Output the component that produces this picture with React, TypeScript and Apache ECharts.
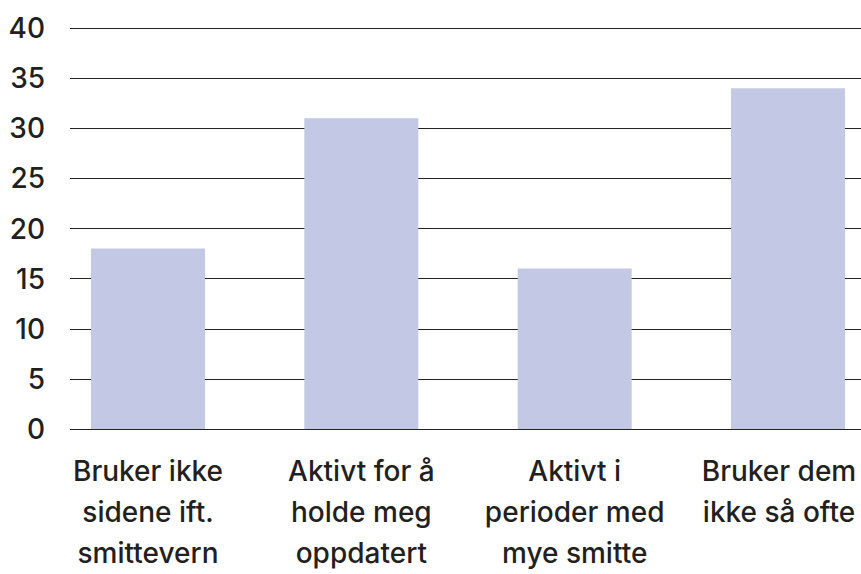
import React, { useEffect, useRef } from "react";
import * as echarts from "echarts";

const categories = [
  "Bruker ikke\nsidene ift.\nsmittevern",
  "Aktivt for å\nholde meg\noppdatert",
  "Aktivt i\nperioder med\nmye smitte",
  "Bruker dem\nikke så ofte",
];
const values = [18, 31, 16, 34];
const yMin = 0;
const yMax = 40;
const yInterval = 5;

const FONT = "Inter";
const TEXT = "#231f20";
const W = 900;

export default function App() {
  const ref = useRef<HTMLDivElement>(null);
  useEffect(() => {
    if (!ref.current) return;
    const chart = echarts.init(ref.current, null, { renderer: "svg" });
    const catData = categories.map((c, i) =>
      i === categories.length - 1
        ? { value: c, textStyle: { padding: [0, 18, 0, 0] } }
        : c
    );
    chart.setOption({
      animation: false,
      backgroundColor: "#ffffff",
      grid: [
        { left: 70, right: W - 861, top: 28, height: 401, containLabel: false },
        { left: 41.33, right: W - 894.67, top: 28, height: 401, containLabel: false },
      ],
      xAxis: [
        {
          gridIndex: 0,
          type: "category",
          data: categories,
          show: false,
        },
        {
          gridIndex: 1,
          type: "category",
          data: catData,
          axisLine: { show: false },
          axisTick: { show: false },
          axisLabel: {
            interval: 0,
            color: TEXT,
            fontFamily: FONT,
            fontSize: 28,
            fontWeight: 500,
            lineHeight: 41,
            margin: 21,
            align: "center",
          },
        },
      ],
      yAxis: [
        {
          gridIndex: 0,
          type: "value",
          min: yMin,
          max: yMax,
          interval: yInterval,
          axisLine: { show: false },
          axisTick: { show: false },
          axisLabel: {
            color: TEXT,
            fontFamily: FONT,
            fontSize: 28,
            fontWeight: 500,
            margin: 25,
          },
          splitLine: { show: true, lineStyle: { color: "#222222", width: 1 } },
        },
        {
          gridIndex: 1,
          type: "value",
          min: yMin,
          max: yMax,
          interval: yInterval,
          show: false,
          splitLine: { show: false },
        },
      ],
      series: [
        {
          type: "bar",
          xAxisIndex: 1,
          yAxisIndex: 1,
          data: values,
          barWidth: 114,
          itemStyle: { color: "#c3c8e5" },
          z: 1,
        },
      ],
    });
    return () => chart.dispose();
  }, []);
  return (
    <div
      style={{
        position: "fixed",
        left: 0,
        top: 0,
        width: 861,
        height: 574,
        overflow: "hidden",
        background: "#ffffff",
      }}
    >
      <div ref={ref} style={{ width: W, height: 574 }} />
    </div>
  );
}
